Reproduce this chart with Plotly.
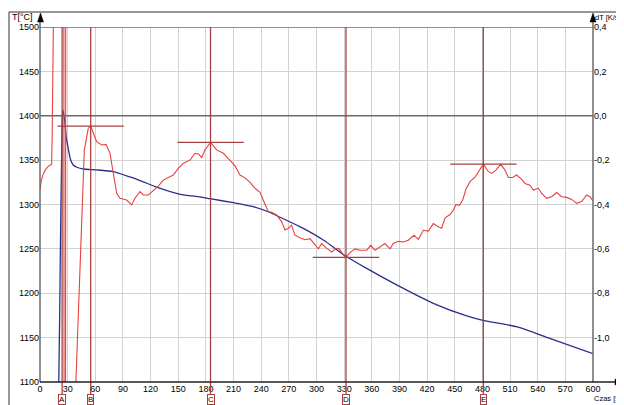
import plotly.graph_objects as go

# ---- data ----
temp_time = [20.3, 21.2, 22.2, 23.7, 24.6, 25.5, 27.1, 28.5, 30.5, 33, 36, 40, 47, 61.5, 79.5,
             97.6, 108.5, 126.6, 152, 173.6, 184.5, 209.8, 231.4, 249.6, 260.4, 282, 307.4,
             331.6, 354.4, 390.6, 426.7, 463, 481.7, 517, 553, 600]
temp_values = [1095, 1162, 1257, 1369, 1407, 1403, 1391.5, 1375, 1364, 1351, 1344.5, 1342, 1340,
               1339, 1337, 1331, 1327, 1319.5, 1311.5, 1308.5, 1306.5, 1302, 1297.5, 1291, 1285.6,
               1275, 1260, 1242, 1228, 1207.4, 1188.7, 1174.4, 1169.1, 1162.3, 1149.2, 1132]

rate_time = [0, 1.5, 3.5, 6, 9, 12.6, 13.2, 14.6, None, 25.9, 26.1, None, 27.7, 27.9, None,
             38.5, 41.6, 45.2, 48.1, 52.4, 55, 58, 61.5, 66.9, 71.6, 75.9, 79.5, 83.2, 86.8,
             90.4, 94, 99.5, 103, 108.5, 112, 117.5, 123, 128.4, 133.8, 139.2, 144.6, 150,
             155.5, 162.7, 168.2, 171.8, 175.4, 179, 185, 191.7, 198.9, 206, 211.6, 217,
             222.4, 227.9, 233.3, 238.7, 242.3, 244.5, 247.7, 251.4, 256.8, 262.2, 265.8,
             269.4, 273, 276.6, 282.1, 287.5, 293, 298.4, 302, 305.6, 311, 316.5, 321.2,
             324.8, 329, 332, 336.4, 341.8, 347.2, 354.5, 358.8, 363.5, 368.9, 374.3, 379.7,
             383.3, 388.8, 394.2, 399.6, 405.8, 410.5, 415.9, 421.3, 426.7, 432.2, 435.8,
             439.5, 444.9, 448.5, 451.4, 455, 458.6, 462.2, 466.6, 472, 477.4, 481, 486.4,
             490, 494.7, 499.8, 504.5, 508.1, 512.8, 517.1, 522.6, 526.2, 531.6, 535.2,
             540.6, 544.3, 549.7, 555.1, 560.5, 566, 571.4, 576.8, 582.3, 587.7, 593.1,
             596.7, 600]
rate_values = [-0.335, -0.29, -0.262, -0.243, -0.228, -0.218, -0.09, 0.45, None, 0.45, -1.25, None,
               -1.25, 0.45, None,
               -1.25, -0.876, -0.424, -0.154, -0.056, -0.047, -0.08, -0.117, -0.132, -0.129,
               -0.169, -0.26, -0.35, -0.372, -0.375, -0.38, -0.402, -0.372, -0.342, -0.357,
               -0.357, -0.335, -0.317, -0.29, -0.278, -0.267, -0.237, -0.214, -0.2, -0.169,
               -0.172, -0.188, -0.154, -0.12, -0.154, -0.169, -0.2, -0.226, -0.267, -0.28,
               -0.30, -0.327, -0.345, -0.376, -0.402, -0.432, -0.435, -0.447, -0.478, -0.515,
               -0.507, -0.493, -0.538, -0.55, -0.559, -0.554, -0.58, -0.6, -0.576, -0.598,
               -0.614, -0.598, -0.6, -0.627, -0.638, -0.617, -0.6, -0.606, -0.606, -0.584,
               -0.606, -0.59, -0.576, -0.6, -0.576, -0.566, -0.569, -0.561, -0.539, -0.557,
               -0.516, -0.52, -0.486, -0.5, -0.507, -0.46, -0.445, -0.425, -0.4, -0.404,
               -0.38, -0.33, -0.297, -0.277, -0.245, -0.218, -0.251, -0.26, -0.245, -0.218,
               -0.245, -0.278, -0.278, -0.267, -0.287, -0.305, -0.313, -0.335, -0.327, -0.35,
               -0.372, -0.365, -0.346, -0.365, -0.368, -0.377, -0.395, -0.387, -0.357,
               -0.365, -0.384]

marker_labels = ["A", "B", "C", "D", "E"]
marker_times = [24, 55, 185, 332, 481]
marker_rates = [None, -0.047, -0.12, -0.638, -0.218]

x_tickvals = list(range(0, 601, 30))
y_tickvals = [1100, 1150, 1200, 1250, 1300, 1350, 1400, 1450, 1500]
y2_tickvals = [0.4, 0.2, 0.0, -0.2, -0.4, -0.6, -0.8, -1.0]
y2_ticktext = ["0,4", "0,2", "0,0", "-0,2", "-0,4", "-0,6", "-0,8", "-1,0"]

# ---- styling ----
FONT = "Liberation Sans"
FS = 9
RED = "#e8403f"
BLUE = "#2b2f8c"
MARK = "#a8403e"
AXIS = "#6a6a6a"
GRID = "#d2d2d2"
HALF = 36  # half length of the extreme marker lines (s)

# the page body adds an 8px offset; the figure is sized so the whole window is used
OFF = 8
WIN_W, WIN_H = 624, 405
PL, PR, PT, PB = 40, 593, 27, 382          # plot area in window pixels
W, H = WIN_W - OFF, WIN_H - OFF
L, R, T, B = PL - OFF, WIN_W - PR, PT - OFF, WIN_H - PB
pw, ph = PR - PL, PB - PT


def px(xp):
    return (xp - PL) / pw


def py(yp):
    return (PB - yp) / ph


fig = go.Figure()
fig.add_trace(go.Scatter(x=rate_time, y=rate_values, yaxis="y2", mode="lines",
                         line=dict(color=RED, width=1.1), connectgaps=False,
                         hoverinfo="skip", showlegend=False))
fig.add_trace(go.Scatter(x=temp_time, y=temp_values, mode="lines",
                         line=dict(color=BLUE, width=1.3, shape="spline", smoothing=0.6),
                         hoverinfo="skip", showlegend=False))

shapes = []
# dark reference lines at top (1500) and at dT = 0 (1400)
for yv in (1500, 1400):
    shapes.append(dict(type="line", xref="paper", yref="y", x0=0, x1=1, y0=yv, y1=yv,
                       line=dict(color=AXIS, width=1.4), layer="above"))
# marker vertical lines
for t in marker_times:
    shapes.append(dict(type="line", xref="x", yref="paper", x0=t, x1=t, y0=py(396), y1=1,
                       line=dict(color=MARK, width=1.3), layer="above"))
# marker horizontal lines at extremes
for t, v in zip(marker_times, marker_rates):
    if v is None:
        continue
    shapes.append(dict(type="line", xref="x", yref="y2", x0=t - HALF, x1=t + HALF, y0=v, y1=v,
                       line=dict(color=MARK, width=1.3), layer="above"))
# axes lines
shapes.append(dict(type="line", xref="paper", yref="paper", x0=0, x1=0, y0=0, y1=py(18),
                   line=dict(color=AXIS, width=1.5)))
shapes.append(dict(type="line", xref="paper", yref="paper", x0=1, x1=1, y0=0, y1=py(18),
                   line=dict(color=AXIS, width=1.5)))
shapes.append(dict(type="line", xref="paper", yref="paper", x0=0, x1=px(620), y0=0, y1=0,
                   line=dict(color="#202020", width=1.5)))


def tri(p1, p2, p3):
    return "M {} {} L {} {} L {} {} Z".format(px(p1[0]), py(p1[1]), px(p2[0]), py(p2[1]),
                                              px(p3[0]), py(p3[1]))


for xa in (40.5, 593):
    shapes.append(dict(type="path", xref="paper", yref="paper",
                       path=tri((xa, 13), (xa - 3, 22), (xa + 3, 22)),
                       fillcolor="#000000", line=dict(color="#000000", width=0.5)))
shapes.append(dict(type="path", xref="paper", yref="paper",
                   path=tri((624, 382), (615, 379), (615, 385)),
                   fillcolor="#000000", line=dict(color="#000000", width=0.5)))
# outer frame
shapes.append(dict(type="line", xref="paper", yref="paper", x0=px(9), x1=px(9), y0=py(420), y1=py(12),
                   line=dict(color="#303030", width=1)))
shapes.append(dict(type="line", xref="paper", yref="paper", x0=px(9), x1=px(640), y0=py(12), y1=py(12),
                   line=dict(color="#303030", width=1)))

annotations = [
    dict(text="T[°C]", xref="paper", yref="paper", x=px(10), y=py(17), xanchor="left",
         yanchor="middle", showarrow=False, font=dict(family=FONT, size=FS, color="#000")),
    dict(text="dT [K/s]", xref="paper", yref="paper", x=px(623), y=py(17), xanchor="right",
         yanchor="middle", showarrow=False, font=dict(family=FONT, size=7.5, color="#000")),
    dict(text="Czas [s]", xref="paper", yref="paper", x=px(623), y=py(398), xanchor="right",
         yanchor="middle", showarrow=False, font=dict(family=FONT, size=7.5, color="#000")),
]
for lab, t in zip(marker_labels, marker_times):
    annotations.append(dict(text=lab, xref="x", yref="paper", x=t, y=py(399),
                            xanchor="center", yanchor="middle", showarrow=False,
                            bordercolor=MARK, borderwidth=1, borderpad=0, bgcolor="#ffffff",
                            font=dict(family=FONT, size=8, color="#000")))

fig.update_layout(
    width=W, height=H,
    margin=dict(l=L, r=R, t=T, b=B, pad=0),
    paper_bgcolor="#ffffff", plot_bgcolor="#ffffff",
    font=dict(family=FONT, size=FS, color="#000"),
    showlegend=False,
    xaxis=dict(range=[0, 600], tickvals=x_tickvals, ticktext=[str(v) for v in x_tickvals],
               showgrid=True, gridcolor=GRID, gridwidth=1.3, zeroline=False, showline=False,
               ticks="", tickfont=dict(family=FONT, size=FS)),
    yaxis=dict(range=[1100, 1500], tickvals=y_tickvals, ticktext=[str(v) for v in y_tickvals],
               showgrid=True, gridcolor=GRID, gridwidth=1.3, zeroline=False, showline=False,
               ticks="", tickfont=dict(family=FONT, size=FS)),
    yaxis2=dict(range=[-1.2, 0.4], overlaying="y", side="right", tickvals=y2_tickvals,
                ticktext=y2_ticktext, showgrid=False, zeroline=False, showline=False,
                ticks="", tickfont=dict(family=FONT, size=FS)),
    shapes=shapes,
    annotations=annotations,
)

fig.write_html("out.html")
